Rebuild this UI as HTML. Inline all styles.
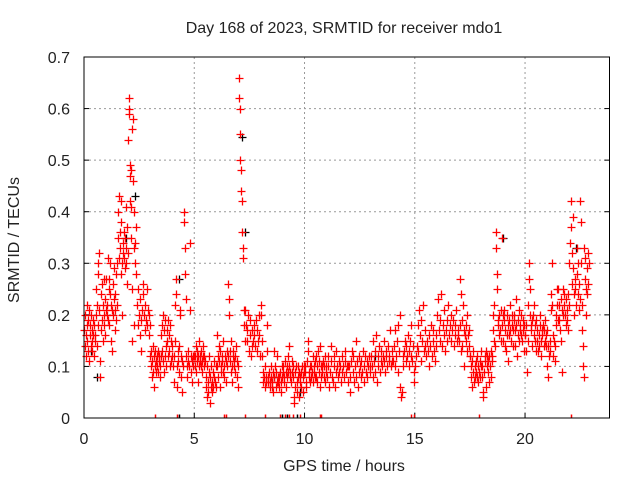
<!DOCTYPE html>
<html><head><meta charset="utf-8"><style>
html,body{margin:0;padding:0;background:#fff;}
svg{display:block;font-family:"Liberation Sans",sans-serif;}
</style></head><body>
<svg id="chart" width="640" height="480" viewBox="0 0 640 480" xmlns="http://www.w3.org/2000/svg">
<rect x="0" y="0" width="640" height="480" fill="#fff"/>
<text x="344" y="33" font-size="16" text-anchor="middle" fill="#222">Day 168 of 2023, SRMTID for receiver mdo1</text>
<text transform="translate(19,240) rotate(-90)" font-size="16" text-anchor="middle" fill="#222">SRMTID / TECUs</text>
<text x="344" y="471" font-size="16" text-anchor="middle" fill="#222">GPS time / hours</text>
<g id="grid"></g>
<g id="ticks"></g>
<g id="marks"></g>
<rect x="84" y="57" width="525.5" height="361" fill="none" stroke="#000" stroke-width="1"/>
</svg>
<script>
const xTicks = [0,5,10,15,20];
const yTicks = [0,0.1,0.2,0.3,0.4,0.5,0.6,0.7];
const yTickLabels = ["0","0.1","0.2","0.3","0.4","0.5","0.6","0.7"];
const redSegStart = [0,0.5,1,1.5,2,2.3,3,3.5,4,4.5,5,5.5,6,6.5,7,7.3,8,8.5,9,9.5,10,10.5,11,12,13,14,15,16,17,17.5,18,18.5,19,19.5,20,20.5,21,21.5,22,22.5];
const redSegEnd   = [0.5,1,1.5,2,2.3,3,3.5,4,4.5,5,5.5,6,6.5,7,7.3,8,8.5,9,9.5,10,10.5,11,12,13,14,15,16,17,17.5,18,18.5,19,19.5,20,20.5,21,21.5,22,22.5,22.9];
const redSegValues = [
[0.17,0.14,0.2,0.12,0.16,0.22,0.18,0.15,0.13,0.19,0.21,0.11,0.16,0.18,0.14,0.2,0.15,0.17,0.13,0.19,0.16,0.12,0.18,0.15],
[0.16,0.2,0.25,0.14,0.22,0.28,0.18,0.3,0.21,0.32,0.08,0.11,0.17,0.24,0.19,0.26,0.15,0.22,0.2,0.27,0.18,0.23,0.16,0.21],
[0.27,0.2,0.22,0.31,0.19,0.25,0.18,0.27,0.3,0.24,0.15,0.22,0.13,0.21,0.26,0.2,0.23,0.29,0.17,0.24,0.21,0.19,0.28,0.22],
[0.3,0.35,0.4,0.43,0.31,0.36,0.33,0.28,0.38,0.42,0.3,0.2,0.34,0.32,0.31,0.36,0.29,0.35,0.41,0.33,0.3,0.37,0.26,0.32],
[0.54,0.59,0.62,0.6,0.49,0.47,0.42,0.41,0.48,0.35,0.15,0.25,0.56,0.58,0.46,0.4,0.33,0.18,0.3],
[0.34,0.37,0.28,0.22,0.25,0.18,0.2,0.23,0.16,0.13,0.19,0.21,0.26,0.24,0.2,0.17,0.22,0.19,0.25,0.18,0.21,0.16,0.2,0.18],
[0.12,0.1,0.13,0.08,0.11,0.09,0.14,0.12,0.06,0.1,0.13,0.09,0.11,0.12,0.1,0.13,0.09,0.11,0.12,0.1,0.08,0.12],
[0.16,0.18,0.13,0.11,0.2,0.17,0.09,0.12,0.19,0.1,0.14,0.15,0.17,0.12,0.19,0.13,0.16,0.1,0.18,0.11,0.15,0.12],
[0.14,0.1,0.07,0.12,0.15,0.22,0.27,0.24,0.1,0.06,0.13,0.11,0.09,0.14,0.21,0.2,0.12,0.08,0.05,0.11,0.1],
[0.4,0.38,0.33,0.28,0.23,0.12,0.1,0.08,0.11,0.13,0.1,0.34,0.21,0.12,0.09,0.11,0.07,0.12,0.1,0.12],
[0.12,0.1,0.14,0.09,0.11,0.13,0.07,0.12,0.15,0.1,0.11,0.12,0.1,0.13,0.11,0.09,0.12,0.14,0.1,0.12,0.11],
[0.08,0.06,0.1,0.04,0.07,0.05,0.09,0.12,0.03,0.08,0.06,0.1,0.07,0.05,0.09,0.06,0.08,0.11,0.07,0.06,0.1],
[0.1,0.16,0.12,0.08,0.14,0.11,0.06,0.13,0.09,0.1,0.12,0.11,0.15,0.09,0.1,0.08,0.12,0.07,0.11,0.13,0.1],
[0.12,0.26,0.23,0.2,0.13,0.11,0.09,0.15,0.07,0.1,0.12,0.13,0.1,0.11,0.09,0.12,0.14,0.08,0.11,0.1,0.06],
[0.66,0.62,0.6,0.55,0.5,0.48,0.44,0.42,0.36,0.33,0.31,0.21,0.18,0.15],
[0.21,0.18,0.15,0.17,0.2,0.13,0.16,0.19,0.12,0.14,0.17,0.15,0.18,0.16,0.14,0.19,0.13,0.17,0.15,0.2,0.16,0.12],
[0.22,0.2,0.15,0.12,0.07,0.09,0.08,0.06,0.1,0.07,0.08,0.18,0.13,0.07,0.08,0.09,0.06,0.07,0.08,0.1],
[0.07,0.06,0.09,0.05,0.08,0.13,0.1,0.06,0.09,0.12,0.07,0.08,0.07,0.06,0.08,0.09,0.05,0.07,0.1,0.08],
[0.09,0.1,0.08,0.07,0.11,0.09,0.06,0.1,0.08,0.12,0.09,0.14,0.1,0.08,0.09,0.07,0.11,0.09,0.08,0.1],
[0.04,0.03,0.06,0.09,0.1,0.07,0.05,0.1,0.08,0.04,0.09,0.08,0.07,0.09,0.06,0.1,0.08,0.05,0.09,0.1],
[0.09,0.1,0.07,0.06,0.11,0.15,0.13,0.09,0.08,0.1,0.07,0.1,0.08,0.09,0.12,0.07,0.1,0.09,0.11,0.08],
[0.12,0.08,0.1,0.07,0.13,0.11,0.09,0.06,0.14,0.1,0.08,0.1,0.09,0.11,0.08,0.1,0.12,0.07,0.09,0.1],
[0.08,0.1,0.12,0.06,0.09,0.14,0.11,0.08,0.07,0.1,0.12,0.06,0.09,0.13,0.1,0.08,0.11,0.09,0.1,0.07,0.12,0.09,0.1,0.08,0.11,0.13,0.09,0.1,0.07,0.1],
[0.1,0.08,0.05,0.11,0.13,0.09,0.12,0.07,0.1,0.15,0.08,0.11,0.06,0.09,0.12,0.1,0.08,0.11,0.09,0.13,0.07,0.1,0.12,0.09,0.08,0.11,0.1,0.12,0.09,0.1],
[0.12,0.1,0.15,0.08,0.11,0.09,0.13,0.16,0.07,0.1,0.12,0.14,0.09,0.11,0.13,0.1,0.12,0.15,0.11,0.09,0.13,0.12,0.1,0.14,0.11,0.12,0.17,0.1,0.13,0.11],
[0.11,0.14,0.17,0.1,0.12,0.15,0.18,0.09,0.13,0.2,0.06,0.04,0.05,0.1,0.12,0.13,0.15,0.11,0.14,0.12,0.16,0.1,0.13,0.15,0.12,0.18,0.11,0.14,0.07,0.09],
[0.1,0.12,0.14,0.18,0.13,0.21,0.16,0.11,0.19,0.15,0.22,0.13,0.17,0.14,0.12,0.15,0.13,0.16,0.1,0.14,0.18,0.12,0.15,0.17,0.13,0.11,0.16,0.14],
[0.2,0.23,0.17,0.15,0.19,0.24,0.14,0.18,0.16,0.21,0.13,0.17,0.15,0.19,0.22,0.16,0.18,0.2,0.15,0.17,0.19,0.14,0.16,0.18,0.21,0.15,0.17,0.16],
[0.15,0.18,0.27,0.24,0.13,0.19,0.14,0.22,0.17,0.1,0.16,0.16,0.15,0.18,0.13,0.2,0.16,0.14,0.17,0.12],
[0.12,0.1,0.08,0.06,0.11,0.09,0.13,0.07,0.1,0.08,0.11,0.09,0.12,0.08,0.1,0.07,0.09,0.11,0.08,0.1],
[0.13,0.1,0.08,0.05,0.04,0.09,0.12,0.11,0.06,0.13,0.1,0.12,0.09,0.11,0.07,0.12,0.1,0.13,0.08,0.11],
[0.12,0.2,0.17,0.15,0.22,0.14,0.36,0.33,0.28,0.25,0.18,0.19,0.16,0.2,0.17,0.21,0.15,0.18,0.35,0.2],
[0.15,0.19,0.21,0.14,0.17,0.13,0.2,0.16,0.18,0.11,0.16,0.19,0.17,0.22,0.15,0.18,0.2,0.14,0.17,0.19],
[0.2,0.17,0.14,0.23,0.18,0.12,0.16,0.19,0.21,0.15,0.17,0.18,0.16,0.2,0.15,0.19,0.17,0.13,0.18,0.16],
[0.16,0.13,0.18,0.09,0.22,0.15,0.27,0.3,0.25,0.2,0.18,0.17,0.19,0.14,0.2,0.16,0.22,0.15,0.18,0.13],
[0.19,0.15,0.17,0.13,0.16,0.14,0.2,0.18,0.15,0.12,0.17,0.16,0.18,0.14,0.17,0.15,0.19,0.16,0.14,0.17],
[0.1,0.14,0.08,0.12,0.15,0.13,0.21,0.24,0.3,0.22,0.16,0.12,0.15,0.11,0.14,0.2,0.18,0.22,0.25,0.19],
[0.25,0.22,0.19,0.17,0.23,0.15,0.21,0.09,0.25,0.2,0.24,0.22,0.2,0.18,0.23,0.21,0.19,0.24,0.17,0.22],
[0.3,0.34,0.37,0.42,0.26,0.32,0.39,0.29,0.2,0.24,0.27,0.25,0.22,0.33,0.28,0.24,0.3,0.21,0.26,0.23],
[0.42,0.38,0.3,0.22,0.17,0.14,0.1,0.08,0.33,0.27,0.31,0.25,0.2,0.29,0.24,0.32,0.26,0.3]
];
const blackTimes  = [0.3,0.6,1.9,2.3,4.3,7.15,7.3,8.6,9.8,13.2,19.0,22.3];
const blackValues = [0.13,0.08,0.35,0.43,0.27,0.545,0.36,0.08,0.05,0.12,0.35,0.33];
const zeroRedTimes = [3.2,4.2,6.35,6.45,7.3,8.2,8.9,9.1,9.3,9.5,9.8,10.7,10.75,14.85,14.95,17.9,22.1];
const zeroBlackTimes = [4.3,9.0,9.2,9.65];

const NS='http://www.w3.org/2000/svg';
const X0=84, X1=609.5, Y0=418, Y1=57, XMAX=23.83, YMAX=0.7;
function xs(t){return X0+(t/XMAX)*(X1-X0);}
function ys(v){return Y0-(v/YMAX)*(Y0-Y1);}
function mk(tag,attrs,parent){const e=document.createElementNS(NS,tag);for(const k in attrs)e.setAttribute(k,attrs[k]);parent.appendChild(e);return e;}
const grid=document.getElementById('grid'), ticks=document.getElementById('ticks'), marks=document.getElementById('marks');
xTicks.forEach(t=>{
  const x=xs(t);
  if(t>0){const g=mk('line',{x1:x,y1:Y1,x2:x,y2:Y0,stroke:'#999','stroke-dasharray':'2,3','stroke-width':1},grid);
  
  }
  const tl=mk('text',{x:x,y:444,'font-size':16,'text-anchor':'middle',fill:'#222'},ticks);
  tl.textContent=String(t);
  
  
  mk('line',{x1:x,y1:Y0,x2:x,y2:Y0-5,stroke:'#000'},ticks);
});
yTicks.forEach((v,i)=>{
  const y=ys(v);
  if(v>0&&v<0.7){const g=mk('line',{x1:X0,y1:y,x2:X1,y2:y,stroke:'#999','stroke-dasharray':'2,3','stroke-width':1},grid);
  
  }
  const tl=mk('text',{x:70,y:y+6,'font-size':16,'text-anchor':'end',fill:'#222'},ticks);
  tl.textContent=yTickLabels[i];
  
  
  mk('line',{x1:X0,y1:y,x2:X0+5,y2:y,stroke:'#000'},ticks);
  mk('line',{x1:X1,y1:y,x2:X1-5,y2:y,stroke:'#000'},ticks);
});
function plus(t,v,color,name){
  const x=Math.round(xs(t))+0.5, y=Math.round(ys(v))+0.5;
  const p=mk('path',{d:`M${x-4},${y}H${x+4}M${x},${y-4}V${y+4}`,stroke:color,'stroke-width':1.3,fill:'none'},marks);
  
  
}
blackTimes.forEach((t,i)=>plus(t,blackValues[i],'#000','black-point'));
redSegValues.forEach((vals,s)=>{
  const a=redSegStart[s], b=redSegEnd[s];
  vals.forEach((v,j)=>{
    const t=a+(b-a)*(j+0.5)/vals.length;
    plus(t,v,'#f00','red-point');
  });
});
function zeroMark(t,color){
  const x=Math.round(xs(t))+0.5;
  const l=mk('line',{x1:x,y1:Y0,x2:x,y2:Y0-3.5,stroke:color,'stroke-width':1.5},marks);
  
  
}
zeroBlackTimes.forEach(t=>zeroMark(t,'#000'));
zeroRedTimes.forEach(t=>zeroMark(t,'#f00'));
</script>
</body></html>
